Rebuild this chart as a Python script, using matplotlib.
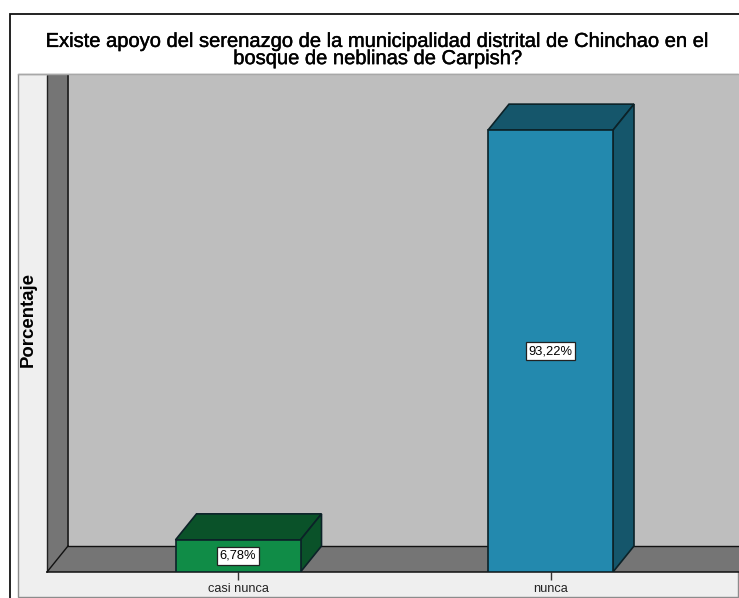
import matplotlib
matplotlib.use('Agg')
import matplotlib.pyplot as plt
import matplotlib.patheffects as pe
from matplotlib.patches import Polygon, Rectangle

plt.rcParams['font.family'] = ['Liberation Sans', 'DejaVu Sans']

categories = ['casi nunca', 'nunca']
values = [6.78, 93.22]
value_labels = ['6,78%', '93,22%']
title = ('Existe apoyo del serenazgo de la municipalidad distrital de Chinchao en el\n'
         'bosque de neblinas de Carpish?')

front_colors = ['#108c47', '#2389ae']
dark_colors = ['#0a5229', '#15566b']
W, H = 739, 598

fig = plt.figure(figsize=(W / 100, H / 100), dpi=100, facecolor='white')

# background layer in pixel coordinates (y going down)
bg = fig.add_axes([0, 0, 1, 1])
bg.set_xlim(0, W)
bg.set_ylim(H, 0)
bg.axis('off')
bg.add_patch(Rectangle((9.5, 13.5), 760, 620, fc='white', ec='#111111', lw=1.3))
bg.add_patch(Rectangle((17.5, 73.5), 720.5, 523, fc='#efefef', ec='#8c8c8c', lw=1))
bg.add_patch(Rectangle((47, 74), 692, 498, fc='#bebebe', ec='none'))
bg.add_patch(Polygon([(47, 74), (68, 74), (68, 546), (47, 572)], fc='#757575', ec='none'))
bg.add_patch(Polygon([(47, 572), (68, 546), (739, 546), (739, 572)], fc='#757575', ec='none'))
bg.plot([47, 47], [75, 572], color='#222222', lw=1, solid_capstyle='butt')
bg.plot([68, 68], [75, 546], color='#222222', lw=1.3, solid_capstyle='butt')
bg.plot([68, 739], [546, 546], color='#111111', lw=1)
bg.plot([47, 68], [572, 546], color='#111111', lw=1)
bg.plot([17.5, 739], [73.5, 73.5], color='#a8a8a8', lw=1)
bg.text(378, 50, title, ha='center', va='center', fontsize=14.5, color='black',
        linespacing=0.88, path_effects=[pe.withStroke(linewidth=0.3, foreground='black')])
bg.text(28, 319.5, 'Porcentaje', rotation=90, ha='center', va='center', fontsize=13.4,
        fontweight='bold', color='black')

# chart axes: 1 unit = 312.5 px across, 4.74 px per percent
ax = fig.add_axes([47 / W, (H - 572) / H, (W - 47) / W, (572 - 73) / H])
ax.patch.set_alpha(0)
ax.set_xlim((47 - 238) / 312.5, (W - 238) / 312.5)
ax.set_ylim(0, 499 / 4.74)
for side in ['top', 'right', 'left']:
    ax.spines[side].set_visible(False)
ax.spines['bottom'].set_linewidth(1.1)
ax.spines['bottom'].set_color('#111111')
ax.set_yticks([])
ax.set_xticks(range(len(categories)))
ax.set_xticklabels(categories, fontsize=9.2, color='#222222')
ax.tick_params(axis='x', length=6, width=1, color='#333333', pad=2)

bar_w = 0.4
dx, dy = 21 / 312.5, 26 / 4.74
for i, v in enumerate(values):
    l, r = i - bar_w / 2, i + bar_w / 2
    ax.add_patch(Polygon([(l, v), (l + dx, v + dy), (r + dx, v + dy), (r, v)],
                         fc=dark_colors[i], ec='#0c2228', lw=1.2, zorder=3))
    ax.add_patch(Polygon([(r, 0), (r + dx, dy), (r + dx, v + dy), (r, v)],
                         fc=dark_colors[i], ec='#0c2228', lw=1.2, zorder=3))
    ax.bar(i, v, width=bar_w, color=front_colors[i], edgecolor='#0c2228', lw=1.2, zorder=4)
    ax.text(i, v / 2, value_labels[i], ha='center', va='center', fontsize=9.3, color='black', zorder=5,
            bbox=dict(boxstyle='square,pad=0.2', fc='white', ec='#222222', lw=0.9))

fig.savefig('out.png', dpi=100)
